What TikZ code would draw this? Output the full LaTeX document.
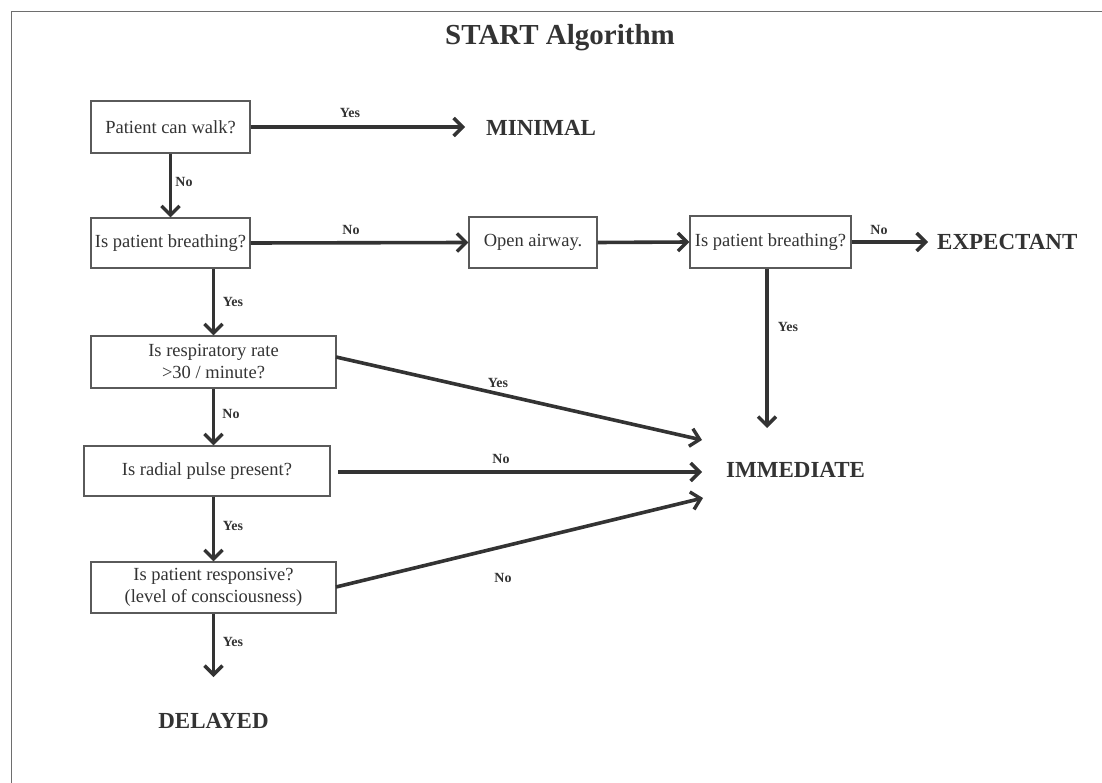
\documentclass[tikz,border=0pt]{standalone}
\usepackage{fontspec}
\setmainfont{Liberation Serif}
\usetikzlibrary{arrows.meta,calc}
\definecolor{ink}{HTML}{333333}
\definecolor{boxline}{HTML}{5A5A5A}
\definecolor{frame}{HTML}{6E6E6E}
\tikzset{
  qbox/.style={draw=boxline, line width=1.3pt, fill=white, text=ink, align=center,
    inner sep=2pt, font=\fontsize{18.5}{22}\selectfont},
  outcome/.style={text=ink, inner sep=0pt, font=\bfseries\fontsize{23}{26}\selectfont},
  lbl/.style={text=ink, inner sep=0pt, font=\bfseries\fontsize{14}{16}\selectfont},
  flow/.style={draw=ink, line width=3.6pt, -{Straight Barb[length=9pt,width=18pt,line width=3.4pt]}},
}
\begin{document}
\begin{tikzpicture}[x=1pt,y=-1pt]
\useasboundingbox (0,0) rectangle (1102,783);
\draw[frame, line width=1.6pt] (11.5,783) -- (11.5,11.5) -- (1102,11.5);
\node[text=ink, inner sep=0pt, font=\bfseries\fontsize{29}{32}\selectfont] (title) at (560,38) {START Algorithm};

% question boxes
\node[qbox, minimum width=159pt, minimum height=52pt] (b1) at (170.5,127) {Patient can walk?};
\node[qbox, minimum width=159pt, minimum height=50pt, inner sep=0pt] (b2) at (170.5,243) {Is patient breathing?};
\node[qbox, minimum width=128pt, minimum height=51pt] (b3) at (533,242.5) {Open airway.};
\node[qbox, minimum width=161pt, minimum height=52pt, inner sep=0pt] (b4) at (770.5,242) {Is patient breathing?};
\node[qbox, minimum width=245pt, minimum height=52pt] (b5) at (213.5,362) {Is respiratory rate\\ >30 / minute?};
\node[qbox, minimum width=246pt, minimum height=50pt] (b6) at (207,471) {Is radial pulse present?};
\node[qbox, minimum width=245pt, minimum height=51pt] (b7) at (213.5,587.5) {Is patient responsive?\\ (level of consciousness)};

% outcomes
\node[outcome, anchor=west] (minimal) at (486,128) {MINIMAL};
\node[outcome, anchor=west] (expectant) at (937,242) {EXPECTANT};
\node[outcome, anchor=west] (immediate) at (726,470) {IMMEDIATE};
\node[outcome] (delayed) at (213.5,721) {DELAYED};

% end points near outcomes
\coordinate (imm1) at (702,440);
\coordinate (imm2) at (702,472);
\coordinate (imm3) at (703,498);
\coordinate (imm4) at (767,428);
\coordinate (del) at (213.5,677);
\coordinate (s5) at (336,357);
\coordinate (s6) at (338,472);
\coordinate (s7) at (336,587);
\coordinate (minend) at (465,127);
\coordinate (expend) at (928,242);

% connectors
\draw[flow] (b1.east) -- (minend);
\draw[flow] (b1.south) -- (b2.north);
\draw[flow] (b2.east) -- (b3.west);
\draw[flow] (b3.east) -- (b4.west);
\draw[flow] (b4.east) -- (expend);
\draw[flow] (b4.south -| imm4) -- (imm4);
\draw[flow] (b5.north |- b2.south) -- (b5.north);
\draw[flow] (b5.south) -- (b5.south |- b6.north);
\draw[flow] (b7.north |- b6.south) -- (b7.north);
\draw[flow] (b7.south) -- (del);
\draw[flow] (s5) -- (imm1);
\draw[flow] (s6) -- (imm2);
\draw[flow] (s7) -- (imm3);

% labels
\node[lbl] at (350,113) {Yes};
\node[lbl] at (184,182) {No};
\node[lbl] at (351,230) {No};
\node[lbl] at (879,230) {No};
\node[lbl] at (788,327) {Yes};
\node[lbl] at (233,302) {Yes};
\node[lbl] at (498,383) {Yes};
\node[lbl] at (231,414) {No};
\node[lbl] at (501,459) {No};
\node[lbl] at (233,526) {Yes};
\node[lbl] at (503,578) {No};
\node[lbl] at (233,642) {Yes};
\end{tikzpicture}
\end{document}
